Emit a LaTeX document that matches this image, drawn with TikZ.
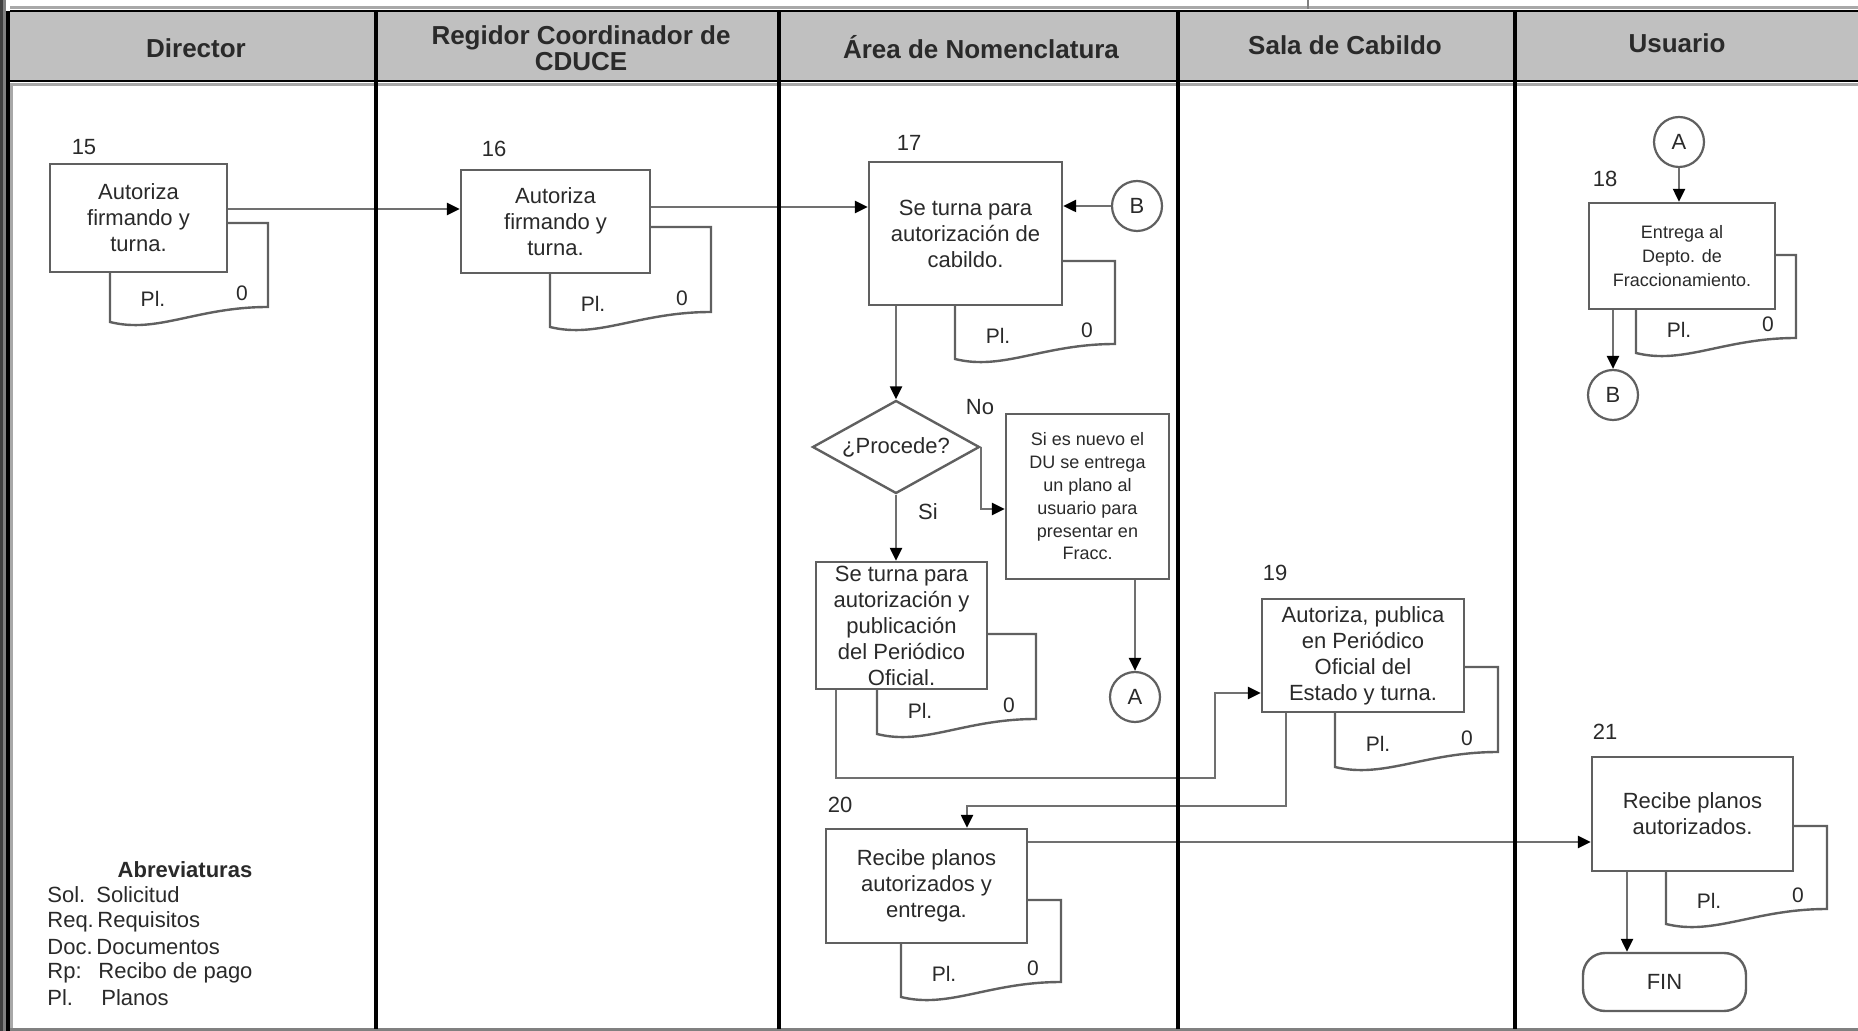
\documentclass[tikz,border=0pt]{standalone}
\usepackage{fontspec}
\setmainfont{Liberation Sans}
\usetikzlibrary{arrows.meta,shapes.geometric,fit,calc}
\definecolor{hdr}{HTML}{C0C0C0}
\definecolor{ln}{HTML}{606060}
\definecolor{cn}{HTML}{707070}
\definecolor{tx}{HTML}{2A2A2A}
\definecolor{lg}{HTML}{A8A8A8}
\definecolor{dk}{HTML}{404040}
\newcommand{\docsh}[5]{% name, L, R, top, yR
  \draw[docst] (#2,#4) -- (#3,#4) -- (#3,#5)
    .. controls ({#3-0.45*(#3-#2)},{#5}) and ({#2+0.3*(#3-#2)},{#5+27}) .. (#2,{#5+15}) -- cycle;
  \node[plt] (#1pl) at ({#2+43},{#5-8}) {Pl.};
  \node[plt] (#1z) at ({#2+132},{#5-14}) {0};
}
\begin{document}
\begin{tikzpicture}[x=0.5pt,y=-0.5pt,
  box/.style={draw=ln, fill=white, line width=1.2pt, inner sep=0pt},
  bt/.style={inner sep=0pt, align=center, text=tx, font=\fontsize{11}{13}\selectfont},
  sbt/.style={bt, font=\fontsize{9}{12}\selectfont},
  xbt/.style={bt, font=\fontsize{9}{11.4}\selectfont},
  docst/.style={draw=ln, fill=white, line width=1.2pt},
  plt/.style={text=tx, inner sep=0pt, font=\fontsize{10.5}{12}\selectfont},
  lbl/.style={text=tx, inner sep=0pt, font=\fontsize{11}{13}\selectfont},
  hd/.style={text=tx, inner sep=0pt, align=center, font=\fontsize{13}{13}\selectfont\bfseries},
  conn/.style={circle, draw=ln, fill=white, line width=1.1pt, minimum size=25pt, inner sep=0pt, text=tx, font=\fontsize{11}{13}\selectfont},
  arr/.style={draw=cn, line width=1.2pt, -{Triangle[length=6.5pt,width=6pt,color=black]}},
  abr/.style={text=tx, inner sep=0pt, anchor=west, font=\fontsize{11}{13}\selectfont},
  colline/.style={draw=black, line width=1.6pt}
]
\useasboundingbox (0,0) rectangle (1858,1031);
\fill[white] (0,0) rectangle (1858,1031);

% header band
\fill[hdr] (10,12) rectangle (1858,82);
\draw[lg, line width=1.5pt] (10,8) -- (1858,8);
\draw[black, line width=1.2pt] (10,11) -- (1858,11);
\draw[black, line width=1.2pt] (10,81) -- (1858,81);
\draw[lg, line width=1.5pt] (10,84.5) -- (1858,84.5);
\draw[gray, line width=1pt] (1308,0) -- (1308,9);

% left border
\fill[dk] (0,0) rectangle (3,1031);
\fill[gray] (3,0) rectangle (6,1031);
\fill[black] (6,11) rectangle (10,1031);
\fill[lg] (10,84) rectangle (13,1031);
% bottom line
\draw[gray, line width=1.5pt] (10,1029.5) -- (1858,1029.5);

% header texts
\node[hd] (h1) at (196,48) {Director};
\node[hd] (h2) at (581,48) {Regidor Coordinador de\\CDUCE};
\node[hd] (h3) at (981,47) {Área de Nomenclatura};
\node[hd] (h4) at (1345,45) {Sala de Cabildo};
\node[hd] (h5) at (1677,43) {Usuario};

% document shapes (behind boxes)
\docsh{d15}{110}{268}{223}{307}
\docsh{d16}{550}{711}{227}{312}
\docsh{d17}{955}{1115}{261}{344}
\docsh{d18}{1636}{1796}{255}{338}
\docsh{dse}{877}{1036}{634}{719}
\docsh{d19}{1335}{1498}{667}{752}
\docsh{d20}{901}{1061}{900}{982}
\docsh{d21}{1666}{1827}{826}{909}

% boxes
\node[box, fit={(50,164) (227,272)}] (b15) {};
\node[box, fit={(461,170) (650,273)}] (b16) {};
\node[box, fit={(869,162) (1062,305)}] (b17) {};
\node[box, fit={(1589,203) (1775,309)}] (b18) {};
\node[box, fit={(1006,414) (1169,579)}] (bNo) {};
\node[box, fit={(816,562) (987,689)}] (bSe) {};
\node[box, fit={(1262,599) (1464,712)}] (b19) {};
\node[box, fit={(826,829) (1027,943)}] (b20) {};
\node[box, fit={(1592,757) (1793,871)}] (b21) {};
\node[box, rounded corners=11pt, fit={(1583,953) (1746,1011)}] (fin) {};
\node[diamond, aspect=1.8, draw=ln, fill=white, line width=1.2pt, inner sep=0pt, minimum width=83.5pt, minimum height=46.5pt, text=tx, font=\fontsize{11}{13}\selectfont] (dia) at (896,447) {¿Procede?};

% box texts
\node[bt] (b15t) at (b15.center) {Autoriza\\firmando y\\turna.};
\node[bt] (b16t) at (b16.center) {Autoriza\\firmando y\\turna.};
\node[bt] (b17t) at (b17.center) {Se turna para\\autorización de\\cabildo.};
\node[sbt] (b18t) at (b18.center) {Entrega al\\Depto. de\\Fraccionamiento.};
\node[xbt] (bNot) at (bNo.center) {Si es nuevo el\\DU se entrega\\un plano al\\usuario para\\presentar en\\Fracc.};
\node[bt] (bSet) at (bSe.center) {Se turna para\\autorización y\\publicación\\del Periódico\\Oficial.};
\node[bt] (b19t) at (b19.center) {Autoriza, publica\\en Periódico\\Oficial del\\Estado y turna.};
\node[bt] (b20t) at (b20.center) {Recibe planos\\autorizados y\\entrega.};
\node[bt] (b21t) at (b21.center) {Recibe planos\\autorizados.};
\node[bt] (fint) at (fin.center) {FIN};

% connectors (circles)
\node[conn] (cA) at (1679,142) {A};
\node[conn] (cB) at (1137,206) {B};
\node[conn] (cA2) at (1135,697) {A};
\node[conn] (cB2) at (1613,395) {B};

% step numbers
\node[lbl] (n15) at (84,147) {15};
\node[lbl] (n16) at (494,149) {16};
\node[lbl] (n17) at (909,143) {17};
\node[lbl] (n18) at (1605,179) {18};
\node[lbl] (n19) at (1275,573) {19};
\node[lbl] (n20) at (840,805) {20};
\node[lbl] (n21) at (1605,732) {21};
\node[lbl] (lno) at (980,407) {No};
\node[lbl] (lsi) at (928,512) {Si};

% arrows
\draw[arr] (b15.east |- 0,209) -- (b16.west |- 0,209);
\draw[arr] (b16.east |- 0,207) -- (b17.west |- 0,207);
\draw[arr] (cB.west) -- (b17.east |- cB.west);
\draw[arr] (b17.south -| dia.north) -- (dia.north);
\draw[arr] (dia.south) -- (dia.south |- bSe.north);
\draw[arr] (dia.east) -- (dia.east |- 0,509) -- (bNo.west |- 0,509);
\draw[arr] (bNo.south -| cA2.north) -- (cA2.north);
\draw[arr] (bSe.south -| 836,0) -- (836,778) -- (1215,778) -- (1215,693) -- (b19.west |- 0,693);
\draw[arr] (b19.south -| 1286,0) -- (1286,806) -- (967,806) -- (b20.north -| 967,0);
\draw[arr] (b20.east |- 0,842) -- (b21.west |- 0,842);
\draw[arr] (cA.south) -- (cA.south |- b18.north);
\draw[arr] (b18.south -| cB2.north) -- (cB2.north);
\draw[arr] (b21.south -| 1627,0) -- (fin.north -| 1627,0);

% column lines
\draw[colline] (376,11) -- (376,1029);
\draw[colline] (779,11) -- (779,1029);
\draw[colline] (1178,11) -- (1178,1029);
\draw[colline] (1515,11) -- (1515,1029);

% abbreviations
\node[lbl, font=\fontsize{11}{13}\selectfont\bfseries] (abt) at (185,870) {Abreviaturas};
\node[abr] (a1) at (47,895) {Sol.};
\node[abr] (a2) at (47,922) {Req.};
\node[abr] (a3) at (47,947) {Doc.};
\node[abr] (a4) at (47,973) {Rp:};
\node[abr] (a5) at (47,998) {Pl.};
\node[abr] (t1) at (96,895) {Solicitud};
\node[abr] (t2) at (97,922) {Requisitos};
\node[abr] (t3) at (96,947) {Documentos};
\node[abr] (t4) at (98,973) {Recibo de pago};
\node[abr] (t5) at (101,998) {Planos};
\end{tikzpicture}
\end{document}
